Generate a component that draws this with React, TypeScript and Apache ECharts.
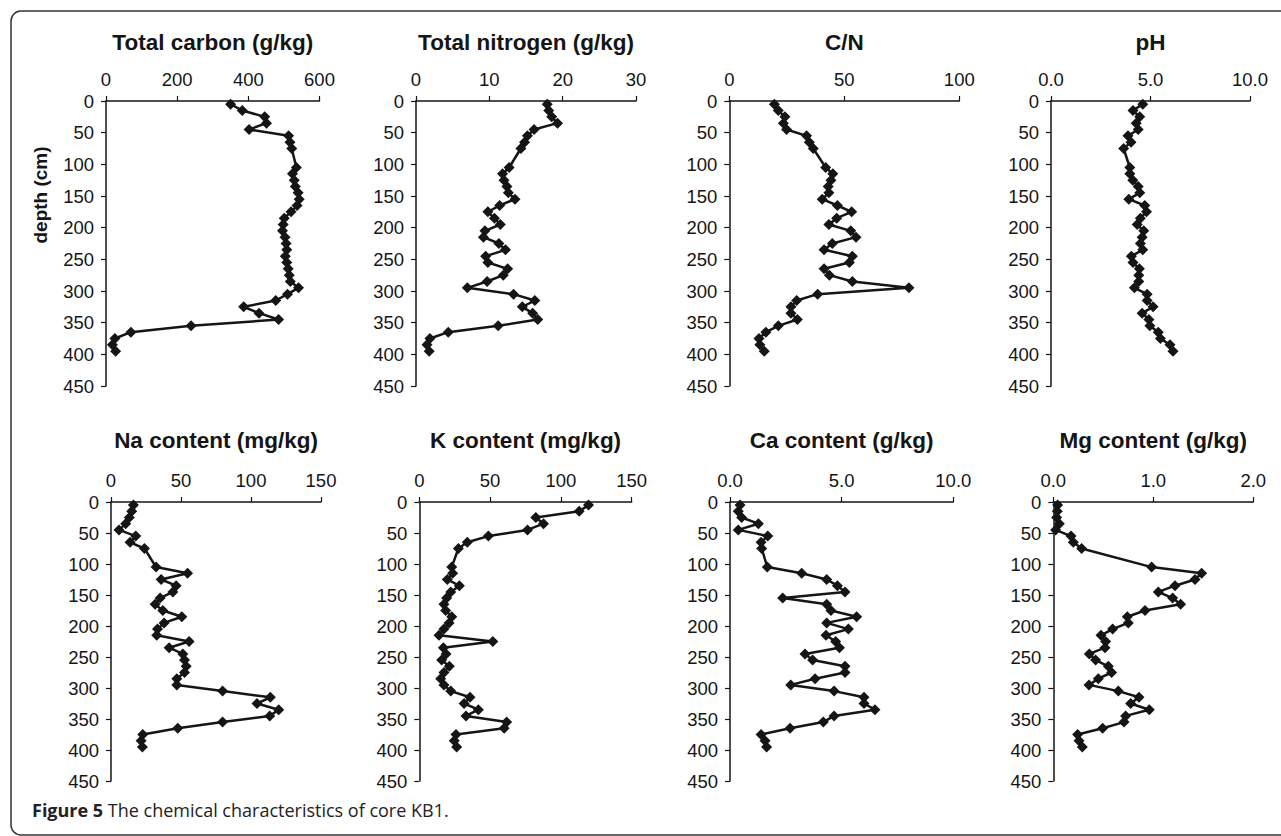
import React, { useEffect, useRef } from "react";
import * as echarts from "echarts";

// Sample depths (cm)
const depths = [5, 15, 25, 35, 45, 55, 65, 75, 105, 115, 125, 135, 145, 155, 165, 175, 185, 195, 205, 215, 225, 235, 245, 255, 265, 275, 285, 295, 305, 315, 325, 335, 345, 355, 365, 375, 385, 395];

const totalCarbon = [350, 383, 446, 451, 402, 513, 517, 522, 535, 524, 529, 532, 540, 543, 537, 520, 501, 498, 496, 503, 506, 508, 504, 508, 512, 515, 518, 541, 510, 477, 387, 430, 485, 239, 70, 25, 18, 27];
const totalNitrogen = [17.9, 18.1, 18.5, 19.3, 16.1, 15.2, 14.8, 14.3, 12.7, 11.8, 12.0, 12.4, 12.6, 13.5, 11.4, 9.8, 10.7, 11.5, 9.4, 9.2, 11.3, 12.2, 9.5, 9.8, 12.5, 11.9, 9.7, 7.0, 13.3, 16.2, 14.5, 15.9, 16.6, 11.2, 4.4, 1.9, 1.5, 1.8];
const cnRatio = [19.6, 21.3, 24.2, 23.5, 24.9, 33.6, 34.8, 36.5, 41.9, 45.0, 44.2, 43.0, 43.3, 40.4, 47.0, 53.2, 46.7, 43.3, 52.8, 55.1, 44.8, 41.2, 53.5, 52.2, 41.2, 43.5, 53.5, 78.1, 38.4, 29.3, 26.8, 26.8, 29.6, 21.3, 15.9, 12.9, 13.3, 15.2];
const pH = [4.61, 4.12, 4.46, 4.28, 4.38, 3.87, 4.02, 3.65, 3.96, 3.96, 4.11, 4.38, 4.46, 3.91, 4.71, 4.8, 4.49, 4.33, 4.66, 4.58, 4.49, 4.61, 4.04, 4.12, 4.44, 4.41, 4.41, 4.19, 4.83, 4.83, 5.13, 4.58, 4.92, 4.97, 5.39, 5.5, 5.98, 6.13];
const naContent = [16.0, 14.8, 13.1, 10.5, 5.7, 17.7, 13.6, 23.9, 32.2, 54.7, 35.8, 46.5, 44.2, 35.1, 31.5, 37.0, 50.6, 37.9, 33.2, 32.7, 55.8, 41.5, 51.3, 52.5, 53.7, 52.5, 47.0, 47.0, 79.7, 113.8, 104.3, 119.8, 113.4, 79.7, 47.7, 22.7, 21.5, 22.4];
const kContent = [119.5, 112.9, 82.3, 87.7, 76.4, 48.8, 33.9, 27.6, 22.9, 23.6, 19.8, 28.3, 22.2, 19.3, 17.4, 18.6, 22.9, 21.0, 17.4, 13.9, 51.9, 17.0, 18.9, 15.8, 21.2, 17.4, 15.1, 17.4, 22.2, 35.8, 31.6, 41.7, 33.0, 61.7, 59.9, 25.9, 24.7, 26.4];
const caContent = [0.45, 0.37, 0.52, 1.27, 0.37, 1.69, 1.39, 1.42, 1.67, 3.21, 4.33, 4.81, 5.15, 2.36, 4.33, 4.52, 5.67, 4.33, 5.3, 4.3, 4.73, 4.9, 3.36, 3.7, 5.15, 5.15, 3.81, 2.72, 4.66, 6.0, 6.0, 6.49, 4.66, 4.18, 2.69, 1.39, 1.57, 1.64];
const mgContent = [0.043, 0.04, 0.033, 0.06, 0.023, 0.177, 0.2, 0.283, 0.983, 1.483, 1.417, 1.217, 1.05, 1.193, 1.273, 0.917, 0.74, 0.75, 0.593, 0.477, 0.523, 0.517, 0.36, 0.423, 0.55, 0.583, 0.45, 0.357, 0.65, 0.857, 0.773, 0.96, 0.723, 0.707, 0.493, 0.243, 0.257, 0.29];

const panelTitles = ["Total carbon (g/kg)", "Total nitrogen (g/kg)", "C/N", "pH", "Na content (mg/kg)", "K content (mg/kg)", "Ca content (g/kg)", "Mg content (g/kg)"];
const panelValues = [totalCarbon, totalNitrogen, cnRatio, pH, naContent, kContent, caContent, mgContent];
const axisMax = [600, 30, 100, 10, 150, 150, 10, 2];
const axisInterval = [200, 10, 50, 5, 50, 50, 5, 1];
const axisDecimals = [0, 0, 0, 1, 0, 0, 1, 1];
const depthMax = 450;
const depthInterval = 50;
const depthLabel = "depth (cm)";
const captionBold = "Figure 5";
const captionText = " The chemical characteristics of core KB1.";

// layout (pixels)
const gridLeft = [106, 416, 729.3, 1051, 111, 419.3, 730, 1053.3];
const gridWidth = [213.5, 220, 230, 199, 210, 212.4, 223.3, 200];
const rowTop = [101, 502];
const rowHeight = [285, 279];
const rowTitleY = [42, 440];

const FONT = "Liberation Sans, Arial, Helvetica, sans-serif";
const INK = "#151515";

export default function App() {
  const ref = useRef<HTMLDivElement>(null);
  useEffect(() => {
    document.body.style.margin = "0";
    const chart = echarts.init(ref.current!, null, { renderer: "svg" });
    const grids: any[] = [];
    const xAxes: any[] = [];
    const yAxes: any[] = [];
    const series: any[] = [];
    const graphics: any[] = [];
    panelTitles.forEach((t, i) => {
      const row = i < 4 ? 0 : 1;
      grids.push({ left: gridLeft[i], top: rowTop[row], width: gridWidth[i], height: rowHeight[row], containLabel: false });
      const dec = axisDecimals[i];
      xAxes.push({
        type: "value", gridIndex: i, position: "top", min: 0, max: axisMax[i], interval: axisInterval[i],
        axisLine: { show: true, onZero: false, lineStyle: { color: INK, width: 1.5 } },
        axisTick: { show: true, inside: false, length: 5, lineStyle: { color: INK, width: 1.2 } },
        splitLine: { show: false },
        axisLabel: { color: INK, fontFamily: FONT, fontSize: 18.5, margin: 12, formatter: (v: number) => v.toFixed(dec) },
      });
      yAxes.push({
        type: "value", gridIndex: i, inverse: true, min: 0, max: depthMax, interval: depthInterval,
        axisLine: { show: true, onZero: false, lineStyle: { color: INK, width: 1.5 } },
        axisTick: { show: true, inside: false, length: 5, lineStyle: { color: INK, width: 1.2 } },
        splitLine: { show: false },
        axisLabel: { color: INK, fontFamily: FONT, fontSize: 18.5, margin: 12 },
      });
      const vals = panelValues[i];
      series.push({
        type: "line", xAxisIndex: i, yAxisIndex: i,
        data: depths.map((d, j) => [vals[j], d]),
        symbol: "diamond", symbolSize: 11,
        lineStyle: { color: INK, width: 2.5 },
        itemStyle: { color: INK },
        emphasis: { disabled: true },
      });
      graphics.push({
        type: "text", x: gridLeft[i] + gridWidth[i] / 2, y: rowTitleY[row],
        style: { text: t, textAlign: "center", textVerticalAlign: "middle", font: `bold 22.5px ${FONT}`, fill: INK },
      });
    });
    graphics.push({
      type: "text", x: 40, y: 195, rotation: Math.PI / 2,
      style: { text: depthLabel, textAlign: "center", textVerticalAlign: "middle", font: `bold 19px ${FONT}`, fill: INK },
    });
    graphics.push({
      type: "rect", shape: { x: 11, y: 11, width: 1400, height: 824, r: 10 },
      style: { fill: "none", stroke: "#333", lineWidth: 1.5 }, z: -1,
    });
    graphics.push({
      type: "text", x: 32, y: 810,
      style: {
        text: `{b|${captionBold}}${captionText}`,
        textVerticalAlign: "middle",
        font: `18px "Open Sans", sans-serif`,
        fill: "#222",
        rich: { b: { fontWeight: "bold", fontSize: 18, fontFamily: "Open Sans", fill: "#222" } },
      },
    });
    chart.setOption({
      animation: false,
      backgroundColor: "#fff",
      grid: grids,
      xAxis: xAxes,
      yAxis: yAxes,
      series,
      graphic: graphics,
    });
    return () => chart.dispose();
  }, []);
  return <div ref={ref} style={{ width: 1281, height: 836 }} />;
}
